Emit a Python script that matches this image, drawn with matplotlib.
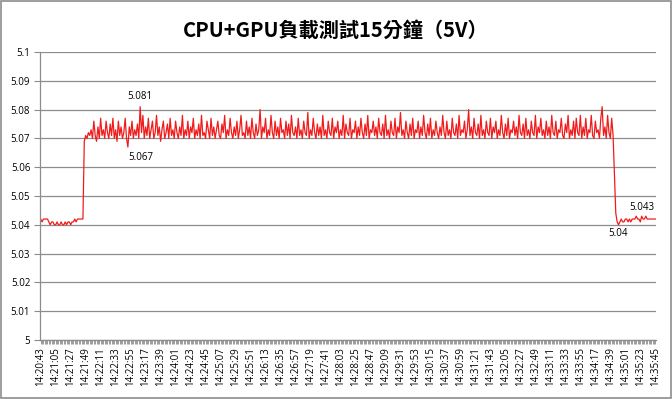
import numpy as np
import matplotlib.pyplot as plt
from matplotlib.patches import Rectangle

# 電壓讀數 (mV)，每 2 秒一筆
idle_before = [5042, 5041, 5042, 5042, 5042, 5042, 5041, 5040, 5041, 5041, 5040, 5040,
               5041, 5040, 5040, 5041, 5040, 5040, 5041, 5040, 5041, 5041, 5040, 5041,
               5041, 5042, 5041, 5042, 5042, 5042, 5042, 5042]

load = [
    5069, 5071, 5070, 5072, 5071, 5073, 5070, 5076, 5071, 5069, 5074, 5070, 5077, 5071, 5073, 5070, 5076, 5072, 5070, 5075,
    5071, 5077, 5070, 5073, 5069, 5076, 5071, 5074, 5070, 5072, 5077, 5070, 5067, 5074, 5071, 5076, 5070, 5073, 5071, 5075,
    5070, 5081, 5072, 5078, 5070, 5074, 5071, 5077, 5070, 5073, 5076, 5070, 5072, 5078, 5071, 5074, 5069, 5073, 5076, 5070,
    5072, 5075, 5070, 5077, 5071, 5073, 5070, 5076, 5072, 5070, 5074, 5071, 5078, 5070, 5073, 5071, 5076, 5070, 5074, 5072,
    5077, 5070, 5073, 5071, 5075, 5070, 5078, 5071, 5072, 5070, 5076, 5073, 5070, 5077, 5071, 5074, 5070, 5073, 5076, 5071,
    5070, 5075, 5072, 5078, 5070, 5073, 5071, 5077, 5072, 5070, 5074, 5071, 5076, 5070, 5073, 5078, 5071, 5072, 5070, 5076,
    5071, 5074, 5070, 5077, 5072, 5070, 5075, 5071, 5073, 5080, 5070, 5074, 5072, 5077, 5070, 5073, 5071, 5078, 5072, 5070,
    5076, 5071, 5074, 5070, 5077, 5072, 5073, 5070, 5076, 5071, 5075, 5070, 5078, 5072, 5071, 5074, 5070, 5077, 5071, 5073,
    5070, 5076, 5072, 5071, 5079, 5070, 5073, 5071, 5077, 5072, 5070, 5075, 5071, 5074, 5070, 5078, 5071, 5073, 5070, 5076,
    5072, 5071, 5077, 5070, 5074, 5072, 5076, 5070, 5073, 5071, 5078, 5070, 5075, 5072, 5071, 5077, 5070, 5073, 5072, 5076,
    5070, 5074, 5071, 5077, 5072, 5070, 5075, 5071, 5078, 5070, 5073, 5072, 5076, 5071, 5074, 5070, 5077, 5072, 5071, 5075,
    5070, 5078, 5071, 5073, 5070, 5076, 5072, 5071, 5077, 5070, 5074, 5072, 5079, 5071, 5073, 5070, 5076, 5072, 5070, 5075,
    5071, 5077, 5070, 5073, 5072, 5076, 5070, 5074, 5071, 5078, 5072, 5070, 5075, 5071, 5077, 5070, 5073, 5071, 5076, 5072,
    5070, 5074, 5071, 5078, 5072, 5070, 5076, 5071, 5073, 5070, 5077, 5072, 5071, 5075, 5070, 5078, 5071, 5073, 5072, 5076,
    5070, 5073, 5080, 5071, 5074, 5070, 5077, 5072, 5071, 5075, 5070, 5078, 5071, 5073, 5070, 5076, 5072, 5071, 5077, 5070,
    5074, 5072, 5076, 5070, 5073, 5071, 5078, 5072, 5070, 5075, 5071, 5077, 5070, 5073, 5072, 5076, 5071, 5074, 5070, 5078,
    5072, 5071, 5075, 5070, 5077, 5071, 5073, 5070, 5076, 5072, 5071, 5078, 5070, 5074, 5072, 5077, 5071, 5073, 5070, 5076,
    5071, 5074, 5070, 5078, 5072, 5071, 5076, 5070, 5073, 5072, 5077, 5071, 5070, 5075, 5072, 5078, 5070, 5073, 5071, 5076,
    5070, 5077, 5072, 5071, 5078, 5070, 5074, 5071, 5077, 5070, 5073, 5072, 5078, 5071, 5070, 5076, 5072, 5073, 5070, 5077,
    5081, 5071, 5074, 5070, 5078, 5072, 5070, 5077, 5071,
]

idle_after = [5058, 5044, 5041, 5040,
              5041, 5042, 5041, 5041, 5042, 5042, 5041, 5042, 5041, 5042, 5042, 5042, 5043,
              5042, 5042, 5041, 5043, 5042, 5042, 5043, 5042, 5042, 5042, 5042, 5042, 5042, 5042]

time_labels = ['14:20:43', '14:21:05', '14:21:27', '14:21:49', '14:22:11', '14:22:33', '14:22:55',
               '14:23:17', '14:23:39', '14:24:01', '14:24:23', '14:24:45', '14:25:07', '14:25:29',
               '14:25:51', '14:26:13', '14:26:35', '14:26:57', '14:27:19', '14:27:41', '14:28:03',
               '14:28:25', '14:28:47', '14:29:09', '14:29:31', '14:29:53', '14:30:15', '14:30:37',
               '14:30:59', '14:31:21', '14:31:43', '14:32:05', '14:32:27', '14:32:49', '14:33:11',
               '14:33:33', '14:33:55', '14:34:17', '14:34:39', '14:35:01', '14:35:23', '14:35:45']

# 標註的資料點: (索引, 文字偏移 x, y，單位 pt)
marked = [(73, 0, 7), (64, 9, -7.5), (424, 0, -6.5), (441, 0, 6.5)]

volts = np.array(idle_before + load + idle_after) / 1000.0
x = np.arange(len(volts))

fig = plt.figure(figsize=(6.72, 3.99), dpi=100)
ax = fig.add_axes([40 / 672, 1 - 340 / 399, 616 / 672, 288 / 399])

ax.plot(x, volts, color='#f01c1c', linewidth=0.9)

ax.set_xlim(-0.5, len(volts) - 0.5)
ax.set_ylim(5.0, 5.1)
ax.set_yticks(np.arange(5.0, 5.1001, 0.01))
ax.set_yticklabels(['5', '5.01', '5.02', '5.03', '5.04', '5.05', '5.06', '5.07', '5.08', '5.09', '5.1'],
                   fontsize=7, family='Open Sans')
ax.yaxis.grid(True, color='#8c8c8c', linewidth=0.9)
ax.set_axisbelow(True)

ax.set_xticks(np.arange(0, len(volts), 11))
ax.set_xticklabels(time_labels, rotation=90, fontsize=7, family='Open Sans')
ax.set_xticks(x, minor=True)
ax.tick_params(axis='x', which='both', length=3, color='#8c8c8c', width=0.6, pad=2)
ax.tick_params(axis='y', length=4, color='#8c8c8c', width=0.8, pad=3)

for side in ['top', 'right']:
    ax.spines[side].set_visible(False)
for side in ['left', 'bottom']:
    ax.spines[side].set_color('#8c8c8c')
    ax.spines[side].set_linewidth(0.9)

for i, dx, dy in marked:
    ax.annotate('%g' % volts[i], (x[i], volts[i]), xytext=(dx, dy), textcoords='offset points',
                ha='center', va='center', fontsize=7, family='Open Sans')

fig.text(0.5, 1 - 30 / 399, 'CPU+GPU負載測試15分鐘（5V）', ha='center', va='center',
         fontsize=14.5, fontweight='bold', family=['Noto Sans CJK TC', 'DejaVu Sans'])

fig.patches.append(Rectangle((0.002, 0.003), 0.996, 0.994, transform=fig.transFigure,
                             fill=False, edgecolor='#8c8c8c', linewidth=1.2))

fig.savefig('out.png', dpi=100)
